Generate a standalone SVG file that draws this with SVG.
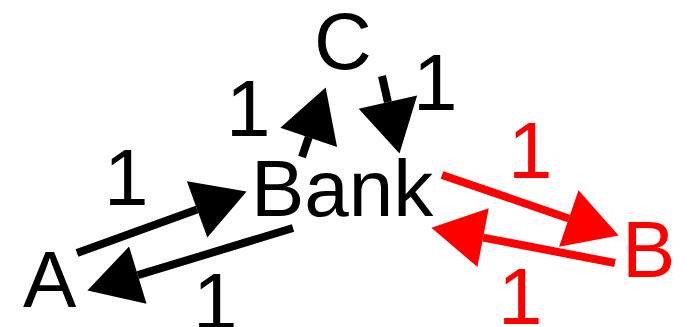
<svg xmlns="http://www.w3.org/2000/svg" width="693" height="327" viewBox="0 0 693 327">
<style>
text{font-family:"Liberation Sans",Arial,sans-serif;font-size:80px}
.k{fill:#000}
.r{fill:#ff0000}
.ek{stroke:#000;stroke-width:8;fill:none;marker-end:url(#hk)}
.er{stroke:#ff0000;stroke-width:8;fill:none;marker-end:url(#hr)}
</style>
<defs>
<marker id="hk" markerUnits="userSpaceOnUse" markerWidth="60" markerHeight="62" viewBox="-1 -30 55 60" refX="0" refY="0" orient="auto" overflow="visible">
<path d="M0,-29 L51,0 L0,29 Z" fill="#000"/>
</marker>
<marker id="hr" markerUnits="userSpaceOnUse" markerWidth="60" markerHeight="62" viewBox="-1 -30 55 60" refX="0" refY="0" orient="auto" overflow="visible">
<path d="M0,-29 L51,0 L0,29 Z" fill="#ff0000"/>
</marker>
</defs>
<g id="connectors">
<path class="ek" d="M77,253 L197.1,209.4"/>
<path class="ek" d="M293,228 L137.8,275.2"/>
<path class="ek" d="M302,157 L308.7,137.3"/>
<path class="ek" d="M382,76 L387.9,102.2"/>
<path class="er" d="M442,175 L568.8,218.5"/>
<path class="er" d="M615,263 L483.1,237.6"/>
</g>
<g id="edge-labels">
<text class="k" x="104" y="205">1</text>
<text class="k" x="193" y="329">1</text>
<text class="k" x="226" y="136">1</text>
<text class="k" x="413" y="110">1</text>
<text class="r" x="508" y="178">1</text>
<text class="r" x="498" y="324">1</text>
</g>
<g id="node-A"><text class="k" x="23" y="307">A</text></g>
<g id="node-Bank"><text class="k" x="251" y="216">Bank</text></g>
<g id="node-C"><text class="k" x="314" y="69">C</text></g>
<g id="node-B"><text class="r" x="622" y="277">B</text></g>
</svg>
